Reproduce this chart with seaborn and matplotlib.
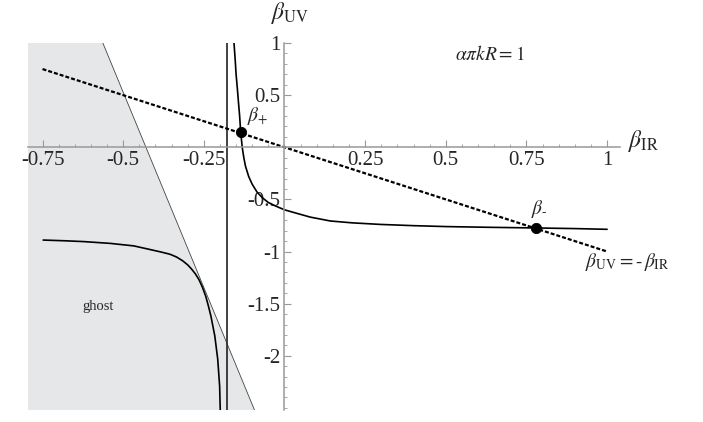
import numpy as np
import pandas as pd
import matplotlib
matplotlib.use("Agg")
import matplotlib.pyplot as plt
import seaborn as sns

# DATA
# right branch of the fixed-point curve
c1_x = [-0.157, -0.153, -0.150, -0.146, -0.143, -0.139, -0.136, -0.131, -0.126,
        -0.121, -0.111, -0.100, -0.085, -0.069, -0.050, -0.028, 0.0, 0.034,
        0.08, 0.142, 0.21, 0.297, 0.40, 0.504, 0.64, 0.779, 0.90, 1.0]
c1_y = [1.02, 0.85, 0.70, 0.56, 0.445, 0.30, 0.157, 0.0, -0.10,
        -0.18, -0.28, -0.355, -0.43, -0.483, -0.53, -0.563, -0.600, -0.630,
        -0.670, -0.707, -0.725, -0.740, -0.752, -0.761, -0.768, -0.774, -0.780, -0.787]

# left branch (inside the ghost region)
c2_x = [-0.748, -0.68, -0.621, -0.54, -0.467, -0.415, -0.385, -0.355, -0.335,
        -0.316, -0.300, -0.288, -0.276, -0.265, -0.254, -0.244, -0.236, -0.228,
        -0.216, -0.207, -0.201, -0.199]
c2_y = [-0.89, -0.897, -0.905, -0.922, -0.946, -0.982, -1.003, -1.026, -1.052,
        -1.088, -1.128, -1.168, -1.215, -1.27, -1.345, -1.43, -1.52, -1.62,
        -1.81, -2.03, -2.29, -2.53]

# vertical asymptote
asym_x = -0.177

# dashed line beta_UV = -beta_IR
diag_x = [-0.75, 1.0]
diag_y = [0.75, -1.0]

# ghost region (shaded) and its boundary
ghost_x = [-0.795, -0.563, -0.093, -0.795]
ghost_y = [1.0, 1.0, -2.52, -2.52]
edge_x = [-0.563, -0.093]
edge_y = [1.0, -2.52]

# fixed points
pts_x = [-0.136, 0.779]
pts_y = [0.150, -0.772]

x_major = [-0.75, -0.5, -0.25, 0.25, 0.5, 0.75, 1.0]
x_labels = ["-0.75", "-0.5", "-0.25", "0.25", "0.5", "0.75", "1"]
y_major = [1.0, 0.5, -0.5, -1.0, -1.5, -2.0]
y_labels = ["1", "0.5", "-0.5", "-1", "-1.5", "-2"]

# CONFIG
sns.set_style("white")
plt.rcParams["font.family"] = ["Liberation Serif", "DejaVu Serif"]
plt.rcParams["mathtext.fontset"] = "stix"
plt.rcParams["axes.unicode_minus"] = False

fig = plt.figure(figsize=(7.03, 4.22), dpi=100)
ax = fig.add_axes([28 / 703, 12 / 422, 592 / 703, 367 / 422])
ax.set_xlim(-0.795, 1.04)
ax.set_ylim(-2.52, 1.0)

# ghost region
ax.fill(ghost_x, ghost_y, color="#e5e7e8", lw=0, zorder=0)
ax.plot(edge_x, edge_y, color="#444444", lw=0.6, zorder=1)

# curves
c1 = pd.DataFrame({"x": c1_x, "y": c1_y})
c2 = pd.DataFrame({"x": c2_x, "y": c2_y})
sns.lineplot(data=c1, x="x", y="y", sort=False, estimator=None, color="black", lw=1.2, ax=ax)
sns.lineplot(data=c2, x="x", y="y", sort=False, estimator=None, color="black", lw=1.2, ax=ax)
ax.axvline(asym_x, color="#222222", lw=1.2)
sns.lineplot(x=diag_x, y=diag_y, color="black", lw=1.6, ax=ax, linestyle=(0, (1.8, 0.9)))
sns.scatterplot(x=pts_x, y=pts_y, color="black", s=55, ax=ax, zorder=5, edgecolor="black")

# axes through the origin
for side in ["top", "right"]:
    ax.spines[side].set_visible(False)
for side in ["left", "bottom"]:
    ax.spines[side].set_position("zero")
    ax.spines[side].set_color("#999999")
    ax.spines[side].set_linewidth(1.1)

ax.set_xticks(x_major, x_labels)
ax.set_xticks(np.arange(-0.75, 1.001, 0.05), minor=True)
ax.set_yticks(y_major, y_labels)
ax.set_yticks(np.arange(-2.5, 1.001, 0.1), minor=True)
ax.tick_params(which="both", bottom=True, left=True, top=False, right=False)
ax.tick_params(which="major", direction="in", length=5, width=0.8, color="#999999",
               labelsize=15, pad=3)
ax.tick_params(which="minor", direction="in", length=2.5, width=0.6, color="#999999")
ax.set_xlabel("")
ax.set_ylabel("")
ax.grid(False)

# labels
ax.text(-0.043, 1.23, r"$\beta_{\rm UV}$", fontsize=17, ha="left", va="baseline")
ax.text(1.066, 0.0, r"$\beta_{\rm IR}$", fontsize=17, ha="left", va="baseline")
ax.text(0.638, 0.89, r"$\alpha\pi kR=1$", fontsize=14, ha="center", va="center")
ax.text(-0.116, 0.30, r"$\beta_{+}$", fontsize=14, ha="left", va="center")
ax.text(0.763, -0.594, r"$\beta_{\text{-}}$", fontsize=14, ha="left", va="center")
ax.text(0.933, -1.10, r"$\beta_{\rm UV}=\text{-}\,\beta_{\rm IR}$", fontsize=14,
        ha="left", va="center")
ax.text(-0.577, -1.525, "ghost", fontsize=10.5, ha="center", va="center")

fig.savefig("out.png", dpi=100)
